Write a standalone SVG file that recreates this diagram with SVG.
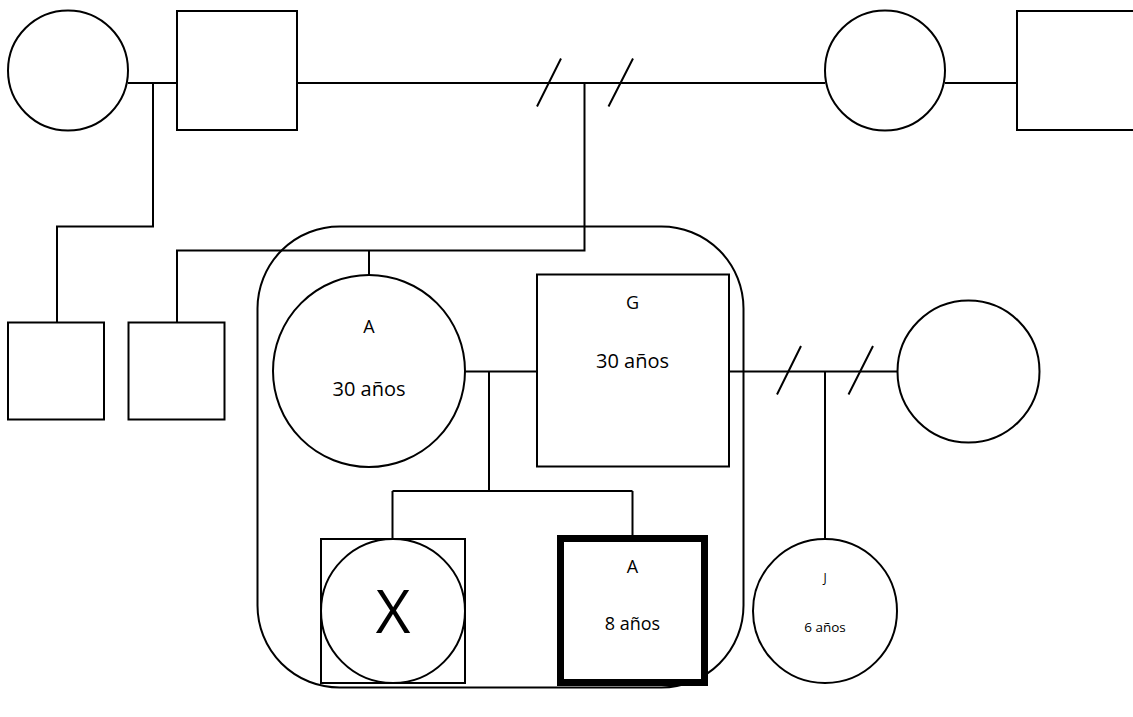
<svg xmlns="http://www.w3.org/2000/svg" width="1133" height="717" viewBox="0 0 1133 717">
<style>
.s{fill:#fff;stroke:#000;stroke-width:2}
.b{fill:#fff;stroke:#000;stroke-width:7}
.c{fill:none;stroke:#000;stroke-width:2}
.t{font-family:"Open Sans","Noto Sans",sans-serif;fill:#000;text-anchor:middle}
</style>
<rect width="1133" height="717" fill="#fff"/>
<g id="household">
<rect class="c" x="257.5" y="226.5" width="486" height="461" rx="82" ry="82"/>
</g>
<g id="connectors">
<path class="c" d="M128 83H177M297 83H825M945 83H1018"/>
<path class="c" d="M537 106.5L561 58.5M608.5 106.5L633 58.5"/>
<path class="c" d="M153 83V226.5H57V322"/>
<path class="c" d="M584.5 83V250.5H177V322M369 250.5V275"/>
<path class="c" d="M465 371.5H537M489 371.5V491M392.5 491H632.5M392.5 491V539M632.5 491V535"/>
<path class="c" d="M729 371.5H897"/>
<path class="c" d="M777 394.5L801 346M848.5 394.5L873 346"/>
<path class="c" d="M825 371.5V539"/>
</g>
<g id="gf1"><circle class="s" cx="68" cy="70.5" r="60"/></g>
<g id="gm1"><rect class="s" x="177" y="11" width="120" height="119"/></g>
<g id="gf2"><circle class="s" cx="885" cy="70.5" r="60"/></g>
<g id="gm2"><rect class="s" x="1017" y="11" width="130" height="119"/></g>
<g id="sib1"><rect class="s" x="8" y="322.5" width="96" height="97"/></g>
<g id="sib2"><rect class="s" x="128.5" y="322.5" width="96" height="97"/></g>
<g id="nodeA">
<circle class="s" cx="369" cy="371" r="96"/>
<text class="t" x="369" y="332.5" font-size="18">A</text>
<text class="t" x="369" y="396" font-size="20">30 años</text>
</g>
<g id="nodeG">
<rect class="s" x="537" y="274.5" width="192" height="192"/>
<text class="t" x="632.5" y="309" font-size="18">G</text>
<text class="t" x="632.5" y="368" font-size="20">30 años</text>
</g>
<g id="nodeW"><circle class="s" cx="968.5" cy="371.5" r="71"/></g>
<g id="nodeX">
<rect class="s" x="321" y="539" width="144" height="144"/>
<circle class="s" cx="393" cy="611" r="72"/>
<text class="t" x="393" y="633" font-size="60">X</text>
</g>
<g id="nodeA8">
<rect class="b" x="560.5" y="538.5" width="144" height="144"/>
<text class="t" x="632.5" y="572.5" font-size="18">A</text>
<text class="t" x="632.5" y="630" font-size="18">8 años</text>
</g>
<g id="nodeJ">
<circle class="s" cx="825" cy="611" r="72"/>
<text class="t" x="825" y="582" font-size="12">J</text>
<text class="t" x="825" y="632" font-size="13.5">6 años</text>
</g>
</svg>
